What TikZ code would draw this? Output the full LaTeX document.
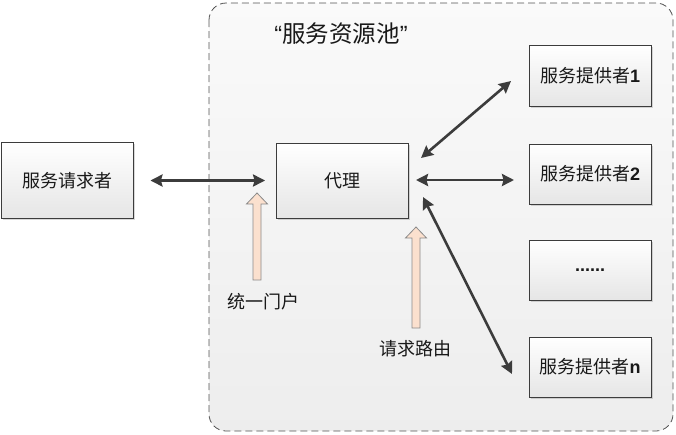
\documentclass[tikz,border=0pt]{standalone}
\usepackage{fontspec}
\setmainfont{Noto Sans CJK SC}
\newfontfamily\latinfont{Liberation Sans}
\usetikzlibrary{arrows.meta,shadows}
\definecolor{edge}{HTML}{3C3C3C}
\definecolor{peach}{HTML}{FBE0CE}
\definecolor{hollowedge}{HTML}{8A8A8A}
\tikzset{
  boxnode/.style={draw=edge, line width=0.9pt, top color=white, bottom color=black!10,
    drop shadow={shadow xshift=1.6pt, shadow yshift=-1.6pt, opacity=0.25, fill=black!60},
    inner sep=0pt, font=\fontsize{18}{20}\selectfont, text=black!90},
  biarrow/.style={draw=edge, line width=2.6pt,
    {Stealth[length=12pt,width=12pt,inset=1.5pt]}-{Stealth[length=12pt,width=12pt,inset=1.5pt]}},
  hollowarrow/.style={fill=peach, draw=hollowedge, line width=0.8pt, line join=miter},
  labeltext/.style={font=\fontsize{18}{20}\selectfont, text=black!90, inner sep=0pt},
}
\newcommand{\dig}[1]{{\latinfont\bfseries #1}}
\begin{document}
\begin{tikzpicture}[x=1pt,y=-1pt]
\useasboundingbox (0,0) rectangle (676,434);
% container
\draw[draw=black!68, line width=0.8pt, dash pattern=on 7pt off 4pt, rounded corners=17pt,
  top color=black!2, bottom color=black!7] (209,3) rectangle (673,431);
\node[font=\fontsize{23.5}{26}\selectfont, text=black!90, inner sep=0pt] (title) at (341,34)
  {{\latinfont “}服务资源池{\latinfont ”}};
% boxes
\node[boxnode, minimum width=132pt, minimum height=76pt] (req) at (67,180.5) {服务请求者};
\node[boxnode, minimum width=132pt, minimum height=75pt] (proxy) at (342.5,180.5) {代理};
\node[boxnode, minimum width=122pt, minimum height=61pt] (p1) at (590,75.5) {服务提供者\dig{1}};
\node[boxnode, minimum width=122pt, minimum height=60pt] (p2) at (590,174) {服务提供者\dig{2}};
\node[boxnode, minimum width=122pt, minimum height=60pt] (pd) at (590,270) {{\latinfont\bfseries ......}};
\node[boxnode, minimum width=122pt, minimum height=60pt] (pn) at (590,367) {服务提供者\dig{n}};
% connectors
\coordinate (a1s) at (421,158); \coordinate (a1e) at (511,81);
\coordinate (a2s) at (416,180); \coordinate (a2e) at (514,180);
\coordinate (a3s) at (423,197); \coordinate (a3e) at (512,374);
\draw[biarrow, shorten <=17pt, shorten >=11pt] (req.east) -- (proxy.west |- req.east);
\draw[biarrow] (a1s) -- (a1e);
\draw[biarrow] (a2s) -- (a2e);
\draw[biarrow] (a3s) -- (a3e);
% hollow arrows
\draw[hollowarrow] (253,280) -- (253,204) -- (246.5,204) -- (257,193) -- (267.5,204) -- (261,204) -- (261,280) -- cycle;
\draw[hollowarrow] (412,328) -- (412,238) -- (405.5,238) -- (416,227) -- (426.5,238) -- (420,238) -- (420,328) -- cycle;
\node[labeltext] (l1) at (263.5,302) {统一门户};
\node[labeltext] (l2) at (415,349) {请求路由};
\end{tikzpicture}
\end{document}
